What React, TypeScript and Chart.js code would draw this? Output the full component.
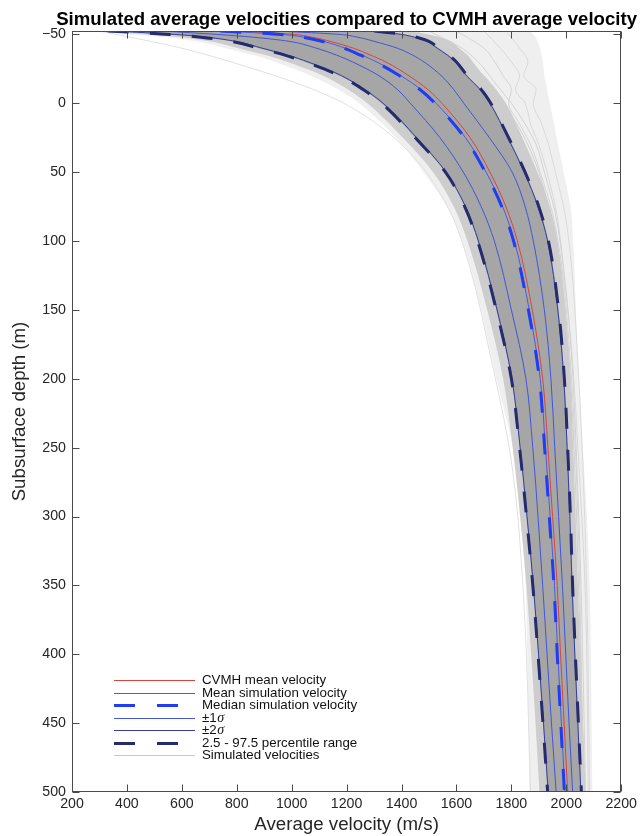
import React, { useEffect, useRef } from 'react';
import { Chart, registerables } from 'chart.js';

Chart.register(...registerables);

// ---------- data (velocity in m/s at each depth in m) ----------
const depths = [-52.5, -50, -48, -45, -40, -35, -30, -20, -10, 0, 25, 50, 75, 100, 150, 200, 250, 300, 350, 400, 450, 500];

const cvmhMean = [800, 1010, 1075, 1140, 1225, 1287, 1343, 1427, 1496, 1547, 1650, 1722, 1780, 1822, 1876, 1914, 1933, 1950, 1967, 1979, 1992, 2005];
const simMean = [745, 965, 1045, 1115, 1195, 1255, 1310, 1398, 1471, 1526, 1633, 1708, 1768, 1811, 1865, 1905, 1924, 1941, 1957, 1969, 1982, 1995];
const simMedian = [740, 960, 1040, 1110, 1190, 1250, 1305, 1393, 1467, 1522, 1630, 1705, 1765, 1808, 1862, 1902, 1921, 1938, 1955, 1967, 1980, 1993];
const minus1Sigma = [530, 730, 860, 990, 1090, 1163, 1222, 1318, 1385, 1432, 1540, 1625, 1690, 1738, 1800, 1853, 1878, 1897, 1914, 1930, 1946, 1963];
const plus1Sigma = [950, 1175, 1240, 1300, 1385, 1440, 1482, 1545, 1590, 1627, 1720, 1803, 1850, 1880, 1920, 1944, 1958, 1972, 1986, 1998, 2010, 2023];
const minus2Sigma = [350, 575, 690, 795, 893, 985, 1060, 1182, 1266, 1333, 1455, 1562, 1633, 1680, 1748, 1802, 1832, 1857, 1880, 1899, 1917, 1934];
const plus2Sigma = [1290, 1400, 1447, 1493, 1530, 1567, 1596, 1637, 1686, 1722, 1787, 1847, 1897, 1932, 1969, 1991, 2003, 2013, 2021, 2031, 2042, 2053];
const p025 = [330, 556, 670, 780, 880, 975, 1050, 1175, 1260, 1327, 1450, 1560, 1630, 1677, 1745, 1800, 1830, 1855, 1878, 1897, 1915, 1932];
const p975 = [1300, 1410, 1455, 1500, 1535, 1572, 1600, 1640, 1690, 1725, 1790, 1850, 1900, 1935, 1972, 1993, 2005, 2015, 2023, 2033, 2044, 2055];

// envelopes of the simulated velocity bundle
const simMin = [250, 420, 540, 650, 760, 860, 940, 1070, 1170, 1245, 1380, 1480, 1565, 1620, 1690, 1745, 1805, 1832, 1852, 1858, 1862, 1865];
const simMax = [1865, 1880, 1888, 1895, 1905, 1910, 1915, 1920, 1930, 1940, 1965, 1990, 2015, 2025, 2035, 2045, 2060, 2075, 2085, 2090, 2092, 2095];
const simLow = [260, 470, 590, 700, 805, 905, 985, 1115, 1205, 1275, 1405, 1515, 1590, 1640, 1712, 1770, 1805, 1832, 1855, 1872, 1888, 1902];
const simHigh = [1420, 1500, 1540, 1580, 1610, 1640, 1660, 1700, 1745, 1780, 1840, 1895, 1940, 1968, 1998, 2015, 2025, 2034, 2042, 2051, 2061, 2070];

// a few individual simulated curves that stand out of the bundle
const outlierDepths = [-52.5, -40, -30, -20, -10, 0, 15, 30, 50, 80, 120, 180, 260, 360, 500];
const simCurveA = [1780, 1830, 1860, 1845, 1890, 1880, 1910, 1935, 1960, 1995, 2020, 2040, 2060, 2075, 2085];
const simCurveB = [1700, 1760, 1800, 1830, 1815, 1850, 1870, 1900, 1930, 1965, 1990, 2020, 2045, 2070, 2080];
const simCurveC = [1600, 1700, 1740, 1770, 1800, 1790, 1830, 1870, 1905, 1950, 1985, 2012, 2035, 2050, 2062];
const simCurveD = [300, 600, 780, 940, 1080, 1190, 1310, 1400, 1490, 1580, 1650, 1720, 1800, 1845, 1870];
const simCurveE = [1500, 1620, 1680, 1720, 1760, 1800, 1850, 1890, 1920, 1960, 1990, 2018, 2038, 2055, 2070];
const simCurveF = [1450, 1580, 1640, 1700, 1740, 1770, 1820, 1860, 1900, 1940, 1975, 2008, 2030, 2046, 2066];

const xTicks = [200, 400, 600, 800, 1000, 1200, 1400, 1600, 1800, 2000, 2200];
const yTicks = [-50, 0, 50, 100, 150, 200, 250, 300, 350, 400, 450, 500];

const titleText = 'Simulated average velocities compared to CVMH average velocity';
const xTitle = 'Average velocity (m/s)';
const yTitle = 'Subsurface depth (m)';

const legendLabels = [
  'CVMH mean velocity',
  'Mean simulation velocity',
  'Median simulation velocity',
  '\u00b11\u03c3',
  '\u00b12\u03c3',
  '2.5 - 97.5 percentile range',
  'Simulated velocities',
];

// ---------- styles ----------
const FONT = '"Liberation Sans", Arial, Helvetica, sans-serif';
const INK = '#262626';
const C_CVMH = '#d9453a';
const C_MEAN = '#4b5bdc';
const C_MEDIAN = '#1f3df5';
const C_S1 = '#4455d6';
const C_S2 = '#343e9e';
const C_PCT = '#262b70';
const C_SIM = '#c8c8c8';

const legendStyles = [
  { color: C_CVMH, width: 1, dash: [] as number[] },
  { color: C_MEAN, width: 1, dash: [] as number[] },
  { color: C_MEDIAN, width: 3, dash: [21, 22] },
  { color: C_S1, width: 1, dash: [] as number[] },
  { color: C_S2, width: 1, dash: [] as number[] },
  { color: C_PCT, width: 3, dash: [21, 22] },
  { color: C_SIM, width: 1, dash: [] as number[] },
];

function pts(vals: number[], ds: number[] = depths) {
  return vals.map((v, i) => ({ x: v, y: ds[i] }));
}

const fmtTick = (v: any) => (Number(v) < 0 ? '\u2212' + String(Math.abs(Number(v))) : String(v));

const framePlugin = {
  id: 'matlabFrame',
  afterDraw(chart: any) {
    const { ctx, chartArea: a, scales } = chart;
    ctx.save();

    // title, centred over the axes box
    ctx.fillStyle = '#000';
    ctx.font = `bold 18.6px ${FONT}`;
    ctx.textAlign = 'center';
    ctx.textBaseline = 'alphabetic';
    ctx.fillText(titleText, (a.left + a.right) / 2, a.top - 6.5);

    const L = Math.round(a.left) + 0.5;
    const R = Math.round(a.right) - 0.5;
    const T = Math.round(a.top) + 0.5;
    const B = Math.round(a.bottom) - 0.5;
    ctx.strokeStyle = '#4a4a4a';
    ctx.lineWidth = 1;
    ctx.setLineDash([]);
    ctx.strokeRect(L, T, R - L, B - T);
    const tl = 7;
    ctx.beginPath();
    xTicks.forEach((v) => {
      const px = Math.round(scales.x.getPixelForValue(v)) + 0.5;
      ctx.moveTo(px, B); ctx.lineTo(px, B - tl);
      ctx.moveTo(px, T); ctx.lineTo(px, T + tl);
    });
    yTicks.forEach((v) => {
      const py = Math.round(scales.y.getPixelForValue(v)) + 0.5;
      ctx.moveTo(L, py); ctx.lineTo(L + tl, py);
      ctx.moveTo(R, py); ctx.lineTo(R - tl, py);
    });
    ctx.stroke();

    // legend
    const x0 = a.left + 42;
    const x1 = a.left + 123;
    const tx = a.left + 130;
    const y0 = a.bottom - 112;
    const step = 12.5;
    legendLabels.forEach((label, i) => {
      const st = legendStyles[i];
      const y = Math.round(y0 + i * step) + 0.5;
      ctx.beginPath();
      ctx.strokeStyle = st.color;
      ctx.lineWidth = st.width;
      ctx.setLineDash(st.dash);
      ctx.moveTo(x0, y);
      ctx.lineTo(x1, y);
      ctx.stroke();
      ctx.setLineDash([]);
      ctx.fillStyle = '#111';
      ctx.textBaseline = 'middle';
      ctx.textAlign = 'left';
      const parts = label.split('\u03c3');
      ctx.font = `13.3px ${FONT}`;
      if (parts.length > 1) {
        ctx.fillText(parts[0], tx, y);
        const w = ctx.measureText(parts[0]).width;
        ctx.font = `italic 14px "Liberation Serif", "DejaVu Serif", serif`;
        ctx.fillText('\u03c3', tx + w + 0.5, y);
      } else {
        ctx.fillText(label, tx, y);
      }
    });
    ctx.restore();
  },
};

export default function App() {
  const ref = useRef<HTMLCanvasElement | null>(null);

  useEffect(() => {
    if (!ref.current) return;
    const line = (data: any[], color: string, width: number, extra: any = {}) => ({
      data,
      borderColor: color,
      borderWidth: width,
      pointRadius: 0,
      fill: false,
      cubicInterpolationMode: 'monotone',
      ...extra,
    });
    const hidden = 'rgba(0,0,0,0)';
    const datasets: any[] = [
      line(pts(simMin), hidden, 1),                                          // 0
      line(pts(simMax), hidden, 1, { fill: 0, backgroundColor: '#efefef' }), // 1
      line(pts(simLow), hidden, 1),                                          // 2
      line(pts(simHigh), hidden, 1, { fill: 2, backgroundColor: '#cdcdcd' }), // 3
      line(pts(simCurveA, outlierDepths), '#dadada', 1),
      line(pts(simCurveB, outlierDepths), '#d8d8d8', 1),
      line(pts(simCurveC, outlierDepths), '#d4d4d4', 1),
      line(pts(simCurveD, outlierDepths), '#e0e0e0', 1),
      line(pts(simCurveE, outlierDepths), '#d2d2d2', 1),
      line(pts(simCurveF, outlierDepths), '#cfcfcf', 1),
      line(pts(cvmhMean), C_CVMH, 1),
      line(pts(simMean), C_MEAN, 1),
      line(pts(simMedian), C_MEDIAN, 3, { borderDash: [21, 21] }),
      line(pts(minus1Sigma), C_S1, 1),
      line(pts(plus1Sigma), C_S1, 1),
      line(pts(minus2Sigma), C_S2, 1),
      line(pts(plus2Sigma), C_S2, 1),
      line(pts(p025), C_PCT, 3, { borderDash: [21, 21] }),
    ];
    const p025Index = datasets.length - 1;
    datasets.push(line(pts(p975), C_PCT, 3, { borderDash: [21, 21], fill: p025Index, backgroundColor: '#a6a6a6' }));
    datasets.forEach((d, i) => { d.order = 100 - i; });

    const chart = new Chart(ref.current, {
      type: 'line',
      data: { datasets },
      options: {
        animation: false,
        responsive: false,
        indexAxis: 'y',
        events: [],
        layout: { padding: { left: 0, right: 19, top: 31, bottom: 0 } },
        plugins: {
          legend: { display: false },
          tooltip: { enabled: false },
          title: { display: false },
          filler: { drawTime: 'beforeDatasetsDraw' },
        },
        scales: {
          x: {
            type: 'linear',
            position: 'bottom',
            min: 200,
            max: 2200,
            afterBuildTicks: (s: any) => { s.ticks = xTicks.map((v) => ({ value: v })); },
            afterFit: (s: any) => { s.height = 44; },
            grid: { display: false, drawTicks: false },
            border: { display: false },
            ticks: {
              color: INK,
              font: { family: FONT, size: 14.2 },
              padding: 4,
              maxRotation: 0,
              autoSkip: false,
              callback: fmtTick,
            },
            title: {
              display: true,
              text: xTitle,
              color: INK,
              font: { family: FONT, size: 18.7, lineHeight: 1.2 },
              padding: { top: 0, bottom: 0 },
            },
          },
          y: {
            type: 'linear',
            position: 'left',
            min: -52.5,
            max: 500,
            reverse: true,
            afterBuildTicks: (s: any) => { s.ticks = yTicks.map((v) => ({ value: v })); },
            afterFit: (s: any) => { s.width = 72; },
            grid: { display: false, drawTicks: false },
            border: { display: false },
            ticks: {
              color: INK,
              font: { family: FONT, size: 14.2 },
              padding: 6,
              autoSkip: false,
              callback: fmtTick,
            },
            title: {
              display: true,
              text: yTitle,
              color: INK,
              font: { family: FONT, size: 18.7, lineHeight: 1.2 },
              padding: { top: 8.5, bottom: 0 },
            },
          },
        },
      } as any,
      plugins: [framePlugin],
    });
    return () => chart.destroy();
  }, []);

  return (
    <div style={{ position: 'absolute', left: 0, top: 0, width: 641, height: 836, background: '#fff' }}>
      <canvas ref={ref} width={641} height={836} style={{ display: 'block', width: 641, height: 836 }} />
    </div>
  );
}
